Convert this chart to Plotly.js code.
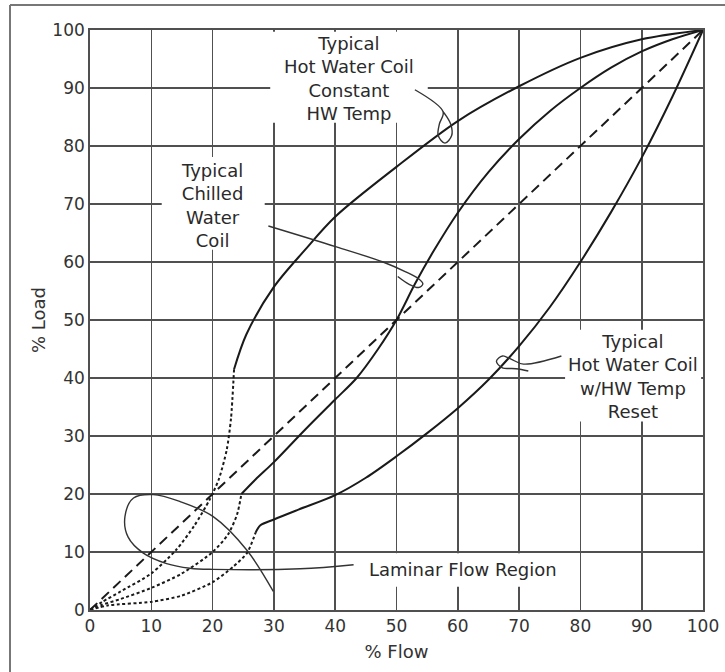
<!DOCTYPE html>
<html>
<head>
<meta charset="utf-8">
<script src="https://cdn.plot.ly/plotly-3.0.1.min.js"></script>
<style>html,body{margin:0;padding:0;background:#fff;}#chart{width:725px;height:672px;}</style>
</head>
<body>
<div id="chart"></div>
<script>
// ---- axis ticks ----
const tickValues = [0, 10, 20, 30, 40, 50, 60, 70, 80, 90, 100];
const tickLabels = ["0", "10", "20", "30", "40", "50", "60", "70", "80", "90", "100"];

// ---- linear reference (dashed) ----
const linearFlow = [0, 100];
const linearLoad = [0, 100];

// ---- Typical Hot Water Coil, Constant HW Temp ----
const hwConstFlow = [23.5, 25.5, 30, 35, 40, 50, 60, 70, 80, 90, 100];
const hwConstLoad = [41.5, 47.5, 55.7, 62, 67.8, 76.4, 84.3, 90.3, 95.2, 98.4, 100];
const hwConstLamFlow = [0, 2, 5, 10, 14, 17, 19.5, 21, 22.3, 23, 23.5];
const hwConstLamLoad = [0, 1.4, 3.2, 6.3, 10.3, 14.5, 19, 22.5, 27.6, 33, 41.5];

// ---- Typical Chilled Water Coil ----
const chwFlow = [24.7, 27, 30, 35, 40, 43.5, 47, 50, 53, 56, 60, 65, 70, 75, 80, 85, 90, 95, 100];
const chwLoad = [20, 22.5, 25.5, 31, 36.3, 40, 45, 50, 56.2, 61.8, 68.5, 75.5, 81.2, 86, 90, 93.5, 96.3, 98.4, 100];
const chwLamFlow = [0, 2, 5, 10, 15, 20, 22.5, 24, 24.7];
const chwLamLoad = [0, 0.9, 1.9, 3.8, 6.3, 10, 13, 16.5, 20];

// ---- Typical Hot Water Coil w/HW Temp Reset ----
const hwResetFlow = [27, 27.8, 30, 34, 40, 45, 50, 55, 60, 65, 70, 75, 80, 85, 90, 95, 100];
const hwResetLoad = [13.3, 14.6, 15.6, 17.3, 19.8, 22.8, 26.5, 30.5, 34.8, 39.7, 45.5, 52.2, 60, 68.6, 78, 88.5, 100];
const hwResetLamFlow = [0, 3, 10, 15, 20, 23.4, 25.6, 27];
const hwResetLamLoad = [0, 0.8, 1.4, 2.5, 4.8, 7.5, 9.8, 13.3];

// ---- callout texts ----
const labelTexts = [
  "Typical<br>Hot Water Coil<br>Constant<br>HW Temp",
  "Typical<br>Chilled<br>Water<br>Coil",
  "Typical<br>Hot Water Coil<br>w/HW Temp<br>Reset",
  "Laminar Flow Region"
];
const labelFlow = [42.2, 19.85, 88.6, 60.8];
const labelLoad = [91.6, 69.7, 40.2, 6.9];

// ---- callout leader paths (hand-drawn hooks) ----
const leaderHwConst = {x: [53, 57.6, 57.0, 56.8, 57.9, 59.0, 58.9, 58.1, 57.6], y: [89.7, 85.9, 83.8, 81.8, 80.5, 81.8, 83.6, 85.2, 85.9]};
const leaderChw = {x: [29.1, 40.2, 47.8, 51.5, 53.6, 54.3, 53.6, 52.0, 50.2], y: [66.2, 62.6, 60, 58.3, 57.1, 56.2, 55.6, 56.2, 57.5]};
const leaderHwReset = {x: [76.9, 70.7, 68.6, 67.3, 66.3, 67.2, 69.5, 71.5], y: [43.8, 42.4, 43.3, 43.8, 42.9, 41.8, 41.6, 41.2]};
const leaderLaminar = {x: [43, 34.3, 20.1, 16.3, 12.5, 8.7, 6.2, 5.7, 7.1, 10.3, 14.7, 20.1, 25.6, 29.9], y: [7.8, 7.1, 7.0, 7.2, 8.0, 9.8, 12.6, 16.1, 19.3, 19.9, 18.7, 16.1, 10.3, 3.2]};

const INK = "#1a1a1a";
const GRID = "#505050";
const FONT = "DejaVu Sans, Arial, sans-serif";

function solid(x, y) {
  return {x: x, y: y, type: "scatter", mode: "lines", hoverinfo: "skip", showlegend: false,
    line: {color: INK, width: 2, shape: "spline", smoothing: 0.9}};
}
function dotted(x, y) {
  return {x: x, y: y, type: "scatter", mode: "lines", hoverinfo: "skip", showlegend: false,
    line: {color: INK, width: 2, shape: "spline", smoothing: 0.7, dash: "3px,2.5px"}};
}
function leader(p) {
  return {x: p.x, y: p.y, type: "scatter", mode: "lines", hoverinfo: "skip", showlegend: false,
    line: {color: "#333", width: 1.4, shape: "spline", smoothing: 1}};
}

const traces = [
  {x: linearFlow, y: linearLoad, type: "scatter", mode: "lines", hoverinfo: "skip", showlegend: false,
    line: {color: INK, width: 2, dash: "10px,6px"}},
  solid(hwConstFlow, hwConstLoad), dotted(hwConstLamFlow, hwConstLamLoad),
  solid(chwFlow, chwLoad), dotted(chwLamFlow, chwLamLoad),
  solid(hwResetFlow, hwResetLoad), dotted(hwResetLamFlow, hwResetLamLoad),
  leader(leaderHwConst), leader(leaderChw), leader(leaderHwReset), leader(leaderLaminar)
];

// white boxes behind label text (blank the grid lines)
function blank(x0, x1, y0, y1) {
  return {type: "rect", xref: "x", yref: "y", x0: x0, x1: x1, y0: y0, y1: y1,
    fillcolor: "#ffffff", line: {width: 0}, layer: "between"};
}

const shapes = [
  blank(29.4, 55.1, 84, 99.7),
  blank(11.7, 28.5, 62.1, 78.1),
  blank(77.5, 99.7, 32.5, 48.3),
  blank(43.3, 78, 4.0, 9.8),
  // outer frame (left and top edges)
  {type: "line", xref: "paper", yref: "paper", x0: -0.1305, x1: -0.1305, y0: -0.13, y1: 1.0431,
    line: {color: "#777", width: 2}},
  {type: "line", xref: "paper", yref: "paper", x0: -0.1305, x1: 1.06, y0: 1.0431, y1: 1.0431,
    line: {color: "#777", width: 2}}
];

const annotations = labelTexts.map((t, i) => ({
  x: labelFlow[i], y: labelLoad[i], xref: "x", yref: "y", text: t, showarrow: false,
  xanchor: "center", yanchor: "middle", align: "center",
  font: {family: FONT, size: 18, color: "#2a2a2a"}
}));

const axisCommon = {
  range: [0, 100], tickmode: "array", tickvals: tickValues, ticktext: tickLabels,
  showgrid: true, gridcolor: GRID, gridwidth: 1.6, zeroline: false,
  showline: true, linecolor: GRID, linewidth: 1.8, mirror: true,
  ticks: "", fixedrange: true,
  tickfont: {family: FONT, size: 17, color: "#333"}
};

const layout = {
  width: 725, height: 672,
  margin: {l: 90, r: 22, t: 30, b: 62},
  paper_bgcolor: "#ffffff", plot_bgcolor: "#ffffff",
  showlegend: false,
  xaxis: Object.assign({}, axisCommon, {
    title: {text: "% Flow", font: {family: FONT, size: 18, color: "#333"}, standoff: 10}
  }),
  yaxis: Object.assign({}, axisCommon, {
    title: {text: "% Load", font: {family: FONT, size: 18, color: "#333"}, standoff: 2}
  }),
  shapes: shapes,
  annotations: annotations
};

Plotly.newPlot("chart", traces, layout, {displayModeBar: false, staticPlot: true});
</script>
</body>
</html>
